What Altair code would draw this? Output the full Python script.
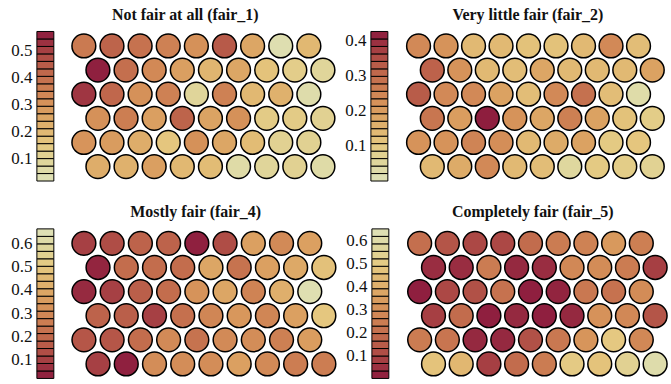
import altair as alt
import numpy as np
import pandas as pd

# Self-organising map component planes: 6 rows x 9 hexagonal units per plane.
fair_1 = [
    [0.37, 0.43, 0.39, 0.35, 0.31, 0.45, 0.25, 0.04, 0.20],
    [0.56, 0.40, 0.33, 0.27, 0.21, 0.25, 0.17, 0.13, 0.09],
    [0.52, 0.42, 0.31, 0.35, 0.09, 0.35, 0.20, 0.22, 0.05],
    [0.31, 0.36, 0.27, 0.43, 0.26, 0.31, 0.14, 0.14, 0.11],
    [0.30, 0.28, 0.23, 0.16, 0.31, 0.25, 0.19, 0.11, 0.11],
    [0.23, 0.22, 0.27, 0.20, 0.19, 0.06, 0.09, 0.11, 0.06],
]
fair_2 = [
    [0.24, 0.22, 0.14, 0.14, 0.12, 0.12, 0.14, 0.24, 0.13],
    [0.32, 0.22, 0.14, 0.13, 0.18, 0.14, 0.14, 0.14, 0.19],
    [0.33, 0.24, 0.24, 0.19, 0.13, 0.24, 0.29, 0.13, 0.03],
    [0.28, 0.20, 0.42, 0.22, 0.18, 0.26, 0.19, 0.12, 0.09],
    [0.22, 0.22, 0.25, 0.23, 0.14, 0.17, 0.19, 0.10, 0.11],
    [0.14, 0.17, 0.24, 0.14, 0.13, 0.05, 0.10, 0.09, 0.07],
]
fair_4 = [
    [0.10, 0.13, 0.18, 0.18, 0.03, 0.13, 0.37, 0.30, 0.37],
    [0.04, 0.21, 0.21, 0.21, 0.39, 0.23, 0.37, 0.40, 0.48],
    [0.05, 0.10, 0.17, 0.21, 0.33, 0.39, 0.28, 0.42, 0.64],
    [0.18, 0.17, 0.10, 0.22, 0.29, 0.34, 0.29, 0.37, 0.50],
    [0.15, 0.15, 0.21, 0.30, 0.23, 0.30, 0.31, 0.27, 0.36],
    [0.10, 0.03, 0.31, 0.31, 0.31, 0.37, 0.30, 0.26, 0.26],
]
fair_5 = [
    [0.20, 0.13, 0.10, 0.10, 0.19, 0.24, 0.26, 0.33, 0.25],
    [0.04, 0.04, 0.24, 0.03, 0.04, 0.28, 0.29, 0.24, 0.08],
    [0.01, 0.10, 0.12, 0.21, 0.01, 0.02, 0.23, 0.21, 0.29],
    [0.08, 0.19, 0.01, 0.03, 0.01, 0.03, 0.31, 0.28, 0.13],
    [0.24, 0.22, 0.03, 0.03, 0.12, 0.23, 0.32, 0.49, 0.28],
    [0.47, 0.43, 0.08, 0.19, 0.24, 0.50, 0.47, 0.54, 0.61],
]

titles = ["Not fair at all (fair_1)", "Very little fair (fair_2)",
          "Mostly fair (fair_4)", "Completely fair (fair_5)"]
ranges = [(0.016, 0.57), (0.0, 0.425), (0.018, 0.664), (0.0, 0.65)]
ticks = [[0.1, 0.2, 0.3, 0.4, 0.5], [0.1, 0.2, 0.3, 0.4],
         [0.1, 0.2, 0.3, 0.4, 0.5, 0.6], [0.1, 0.2, 0.3, 0.4, 0.5, 0.6]]
reversed_palette = [False, False, True, True]

# light -> dark palette
PALETTE = ["#dfe2ba", "#e5c880", "#d8975c", "#bd634b", "#8b1a3e"]
SERIF = "Liberation Serif"
N_STEPS = 20


def color_scale(lo, hi, rev):
    stops = list(np.linspace(lo, hi, len(PALETTE)))
    rng = PALETTE[::-1] if rev else PALETTE
    return alt.Scale(domain=stops, range=rng)


def colorbar(lo, hi, tick_vals, rev, height):
    edges = np.linspace(lo, hi, N_STEPS + 1)
    df = pd.DataFrame({"lo": edges[:-1], "hi": edges[1:],
                       "mid": (edges[:-1] + edges[1:]) / 2})
    return alt.Chart(df).mark_rect(stroke="black", strokeWidth=1).encode(
        y=alt.Y("lo:Q", scale=alt.Scale(domain=[lo, hi], nice=False, zero=False),
                axis=alt.Axis(values=tick_vals, format=".1f", ticks=False,
                              domain=False, grid=False, labelPadding=5,
                              labelFont=SERIF, labelFontSize=17,
                              labelColor="#111", title=None)),
        y2="hi:Q",
        color=alt.Color("mid:Q", scale=color_scale(lo, hi, rev), legend=None),
    ).properties(width=17, height=height)


def hex_plane(values, lo, hi, rev, width, height):
    recs = [{"row": r, "col": c, "value": v}
            for r, row in enumerate(values) for c, v in enumerate(row)]
    df = pd.DataFrame(recs)
    return alt.Chart(df).transform_calculate(
        hx="datum.col + (datum.row % 2) * 0.5"
    ).mark_circle(size=570, stroke="black", strokeWidth=1.5, opacity=1).encode(
        x=alt.X("hx:Q", scale=alt.Scale(domain=[-0.5, 9.0], nice=False, zero=False), axis=None),
        y=alt.Y("row:Q", scale=alt.Scale(domain=[-0.6, 5.6], nice=False, zero=False, reverse=True), axis=None),
        color=alt.Color("value:Q", scale=color_scale(lo, hi, rev), legend=None),
    ).properties(width=width, height=height)


planes = [fair_1, fair_2, fair_4, fair_5]
grid_w = [268, 262, 269, 264]
title_dx = [11, 22, 21, 25]

panels = []
for i, vals in enumerate(planes):
    lo, hi = ranges[i]
    cb = colorbar(lo, hi, ticks[i], reversed_palette[i], 150)
    hp = hex_plane(vals, lo, hi, reversed_palette[i], grid_w[i], 150)
    panel = alt.hconcat(cb, hp, spacing=14).resolve_scale(color="independent").properties(
        title=alt.Title(titles[i], font=SERIF, fontSize=16, fontWeight="bold",
                        color="#111", anchor="middle", dx=title_dx[i], offset=8)
    )
    panels.append(panel)

top = alt.hconcat(panels[0], panels[1], spacing=6).resolve_scale(color="independent")
bottom = alt.hconcat(panels[2], panels[3], spacing=6).resolve_scale(color="independent")

chart = alt.vconcat(top, bottom, spacing=22).resolve_scale(color="independent").configure(
    padding={"left": 10, "top": 6, "right": 0, "bottom": 0},
    background="white",
).configure_view(stroke=None).configure_axis(
    labelFont=SERIF, labelFontSize=17, labelColor="#111"
)

chart.save("out.html", embed_options={"renderer": "svg", "actions": False})
